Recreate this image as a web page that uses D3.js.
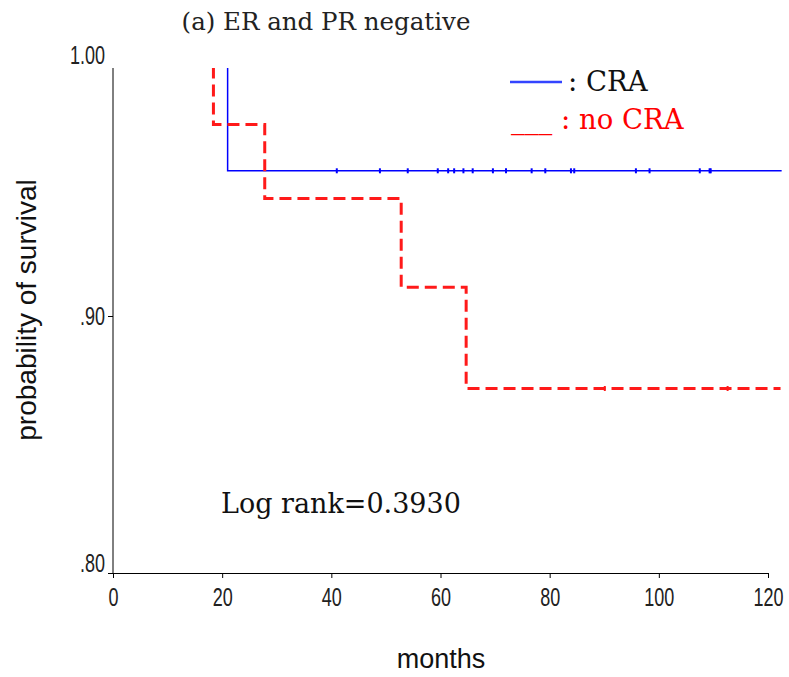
<!DOCTYPE html>
<html lang="en">
<head>
    <title>(a) ER and PR negative</title>
    <script src="https://d3js.org/d3.v7.min.js"></script>
    <style>
        body {
            margin: 0;
            background: white;
        }
        .tick text {
            font-family: 'Liberation Sans', Arial, sans-serif;
            font-size: 25px;
            fill: #222;
        }
        .serif {
            font-family: 'DejaVu Serif', serif;
        }
        .sans {
            font-family: 'Liberation Sans', Arial, sans-serif;
        }
    </style>
</head>
<body>
    <div id="chart"></div>

    <script>
        // Kaplan-Meier steps: [month, survival after drop]
        const craSteps = [[0, 1], [21, 0.9565]];
        const craEnd = 122.5;
        const craCensored = [41.0, 48.9, 54.0, 59.5, 61.4, 62.5, 64.2, 65.9, 69.6, 72.0,
                             76.7, 79.2, 83.9, 84.5, 95.8, 98.3, 107.5, 109.3, 109.5];

        const noCraSteps = [[0, 1], [18.4, 0.9745], [27.8, 0.9457], [52.8, 0.9112], [64.7, 0.8718]];
        const noCraEnd = 122.3;
        const noCraCensored = [90.1, 112.6];

        const xTicks = [0, 20, 40, 60, 80, 100, 120];
        const yTicks = [0.8, 0.9, 1.0];
        const yTickLabels = [".80", ".90", "1.00"];

        const W = 789, H = 677;
        const svg = d3.select("#chart").append("svg")
            .attr("width", W)
            .attr("height", H);

        const x = d3.scaleLinear().domain([0, 120]).range([113, 768]);
        const y = d3.scaleLinear().domain([0.8, 1.0]).range([573, 59]);
        const plotTop = 68;
        const squeeze = 0.72; // tick labels are drawn condensed

        // clip so that curves start at the top of the axis
        svg.append("clipPath").attr("id", "plot-clip")
            .append("rect")
            .attr("x", x(0)).attr("y", plotTop)
            .attr("width", W - x(0)).attr("height", y(0.8) - plotTop);

        // x axis
        const xAxis = svg.append("g")
            .attr("transform", `translate(0,${y(0.8)})`)
            .call(d3.axisBottom(x).tickValues(xTicks).tickSize(5).tickSizeOuter(0).tickPadding(10));
        xAxis.select(".domain").attr("stroke", "#000");
        xAxis.selectAll(".tick line").attr("stroke", "#000");
        xAxis.selectAll(".tick text").attr("transform", `scale(${squeeze},1)`);

        // y axis
        const yAxis = svg.append("g")
            .attr("transform", `translate(${x(0)},0)`)
            .call(d3.axisLeft(y).tickValues(yTicks).tickSize(5).tickSizeOuter(0)
                .tickFormat((d, i) => yTickLabels[i]));
        yAxis.select(".domain").attr("d", `M0,${plotTop}V${y(0.8)}`).attr("stroke", "#000");
        yAxis.selectAll(".tick line").attr("stroke", d => d === 1.0 ? "none" : "#000");
        yAxis.selectAll(".tick text")
            .attr("x", -8 / squeeze)
            .attr("transform", `scale(${squeeze},1)`)
            .attr("dy", d => d === 1.0 ? "0.16em" : d === 0.8 ? "-0.06em" : "0.32em");

        // step path builder
        function stepPath(steps, end) {
            const pts = steps.map(d => [x(d[0]), y(d[1])]);
            pts.push([x(end), y(steps[steps.length - 1][1])]);
            return d3.line().curve(d3.curveStepAfter)(pts);
        }
        function survAt(steps, t) {
            let s = 1;
            steps.forEach(d => { if (d[0] <= t) s = d[1]; });
            return s;
        }

        const curves = svg.append("g").attr("clip-path", "url(#plot-clip)");

        // CRA
        curves.append("path")
            .attr("d", stepPath(craSteps, craEnd))
            .attr("fill", "none")
            .attr("stroke", "#0000ff")
            .attr("stroke-width", 1.5);
        curves.selectAll(".cra-cens")
            .data(craCensored)
            .enter().append("line")
            .attr("x1", d => x(d)).attr("x2", d => x(d))
            .attr("y1", d => y(survAt(craSteps, d)) - 2.5)
            .attr("y2", d => y(survAt(craSteps, d)) + 2.5)
            .attr("stroke", "#0000ff")
            .attr("stroke-width", 2);

        // no CRA
        curves.append("path")
            .attr("d", stepPath(noCraSteps, noCraEnd))
            .attr("fill", "none")
            .attr("stroke", "#ff1a1a")
            .attr("stroke-width", 3)
            .attr("stroke-dasharray", "12,6");
        curves.selectAll(".nocra-cens")
            .data(noCraCensored)
            .enter().append("line")
            .attr("x1", d => x(d)).attr("x2", d => x(d))
            .attr("y1", d => y(survAt(noCraSteps, d)) - 2.5)
            .attr("y2", d => y(survAt(noCraSteps, d)) + 2.5)
            .attr("stroke", "#ff1a1a")
            .attr("stroke-width", 2);

        // title
        svg.append("text")
            .attr("class", "serif")
            .attr("x", 326).attr("y", 30)
            .attr("text-anchor", "middle")
            .style("font-size", "24.5px")
            .style("fill", "#222")
            .text("(a) ER and PR negative");

        // legend
        svg.append("line")
            .attr("x1", 510).attr("x2", 562)
            .attr("y1", 82).attr("y2", 82)
            .attr("stroke", "#3344ff")
            .attr("stroke-width", 2.5);
        svg.append("text")
            .attr("class", "serif")
            .attr("x", 568).attr("y", 91)
            .style("font-size", "27.5px")
            .style("fill", "#111")
            .text(": CRA");
        svg.append("text")
            .attr("class", "serif")
            .attr("x", 511).attr("y", 129)
            .style("font-size", "27.5px")
            .style("fill", "#ff0000")
            .text("___ : no CRA");

        // log rank
        svg.append("text")
            .attr("class", "serif")
            .attr("x", 221).attr("y", 513)
            .style("font-size", "27px")
            .style("fill", "#111")
            .text("Log rank=0.3930");

        // axis labels
        svg.append("text")
            .attr("class", "sans")
            .attr("x", 441).attr("y", 668)
            .attr("text-anchor", "middle")
            .style("font-size", "27px")
            .style("fill", "#111")
            .text("months");
        svg.append("text")
            .attr("class", "sans")
            .attr("transform", "translate(36,310) rotate(-90)")
            .attr("text-anchor", "middle")
            .style("font-size", "28px")
            .style("fill", "#111")
            .text("probability of survival");
    </script>
</body>
</html>
